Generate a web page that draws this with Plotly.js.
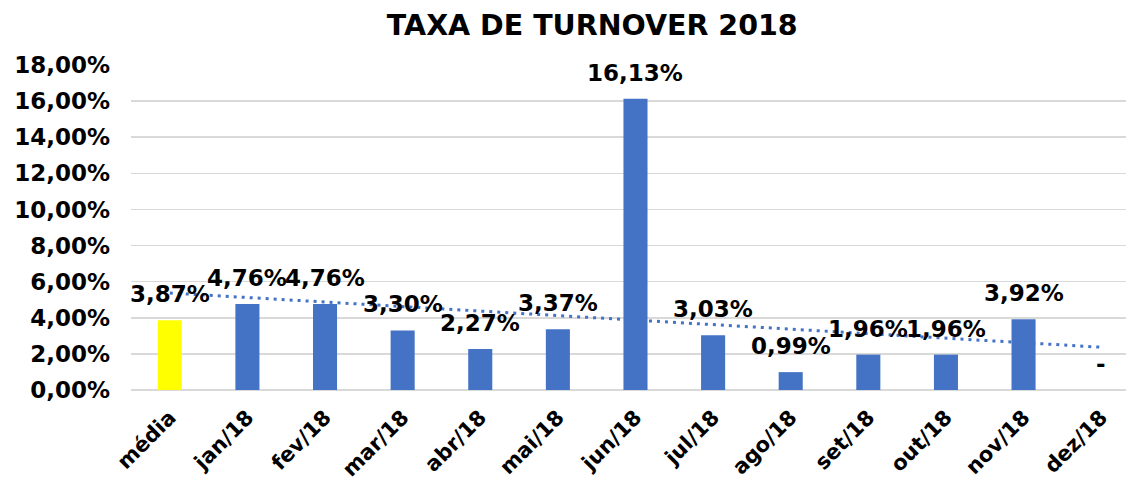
<!DOCTYPE html>
<html>
<head>
<meta charset="utf-8">
<script src="https://cdn.plot.ly/plotly-3.0.1.min.js"></script>
<style>html,body{margin:0;padding:0;background:#fff;}#chart{width:1126px;height:483px;}</style>
</head>
<body>
<div id="chart"></div>
<script>
const categories = ["média","jan/18","fev/18","mar/18","abr/18","mai/18","jun/18","jul/18","ago/18","set/18","out/18","nov/18","dez/18"];
const values = [3.87, 4.76, 4.76, 3.30, 2.27, 3.37, 16.13, 3.03, 0.99, 1.96, 1.96, 3.92, 0];
const dataLabels = ["3,87%","4,76%","4,76%","3,30%","2,27%","3,37%","16,13%","3,03%","0,99%","1,96%","1,96%","3,92%","-"];
const barColors = ["#FFFF00","#4472C4","#4472C4","#4472C4","#4472C4","#4472C4","#4472C4","#4472C4","#4472C4","#4472C4","#4472C4","#4472C4","#4472C4"];
const yTickVals = [0, 2, 4, 6, 8, 10, 12, 14, 16, 18];
const yTickText = ["0,00%","2,00%","4,00%","6,00%","8,00%","10,00%","12,00%","14,00%","16,00%","18,00%"];

// linear trendline (least squares) over the series
const n = values.length;
const xs = values.map((_, i) => i + 1);
const mx = xs.reduce((a, b) => a + b, 0) / n;
const my = values.reduce((a, b) => a + b, 0) / n;
let sxy = 0, sxx = 0;
for (let i = 0; i < n; i++) { sxy += (xs[i] - mx) * (values[i] - my); sxx += (xs[i] - mx) ** 2; }
const slope = sxy / sxx, intercept = my - slope * mx;
const trend = xs.map(x => intercept + slope * x);

const FONT = "DejaVu Sans, Verdana, sans-serif";

const bars = {
  type: "bar", x: categories, y: values,
  marker: {color: barColors},
  hoverinfo: "skip", showlegend: false
};
const trendTrace = {
  type: "scatter", mode: "lines", x: categories, y: trend,
  line: {color: "#4472C4", width: 3, dash: "3px,5px"},
  hoverinfo: "skip", showlegend: false
};

const annotations = categories.map((c, i) => ({
  x: c, y: values[i], xref: "x", yref: "y",
  text: "<b>" + dataLabels[i] + "</b>",
  showarrow: false, yanchor: "bottom", yshift: 11,
  font: {family: FONT, size: 23, color: "#000"}
}));

const layout = {
  width: 1126, height: 483,
  margin: {l: 131, r: 0, t: 65, b: 93},
  paper_bgcolor: "#fff", plot_bgcolor: "#fff",
  bargap: 0.69,
  title: {
    text: "<b>TAXA DE TURNOVER 2018</b>",
    x: 0.526, xref: "container", xanchor: "center",
    y: 0.968, yref: "container", yanchor: "top",
    font: {family: FONT, size: 28.5, color: "#000"}
  },
  xaxis: {
    type: "category",
    range: [-0.5, 12.32],
    tickangle: -45,
    tickfont: {family: FONT, size: 21, color: "#000", weight: "bold"},
    showgrid: false, zeroline: false, showline: false, ticks: "",
    ticklabelstandoff: 10,
    fixedrange: true
  },
  yaxis: {
    range: [0, 18],
    tickvals: yTickVals, ticktext: yTickText,
    tickfont: {family: FONT, size: 23, color: "#000", weight: "bold"},
    showgrid: true, gridcolor: "#D9D9D9", gridwidth: 1.5,
    zeroline: true, zerolinecolor: "#D9D9D9", zerolinewidth: 1.5,
    showline: false, ticks: "", ticklabelstandoff: 20,
    fixedrange: true
  },
  annotations: annotations
};

Plotly.newPlot("chart", [bars, trendTrace], layout, {displayModeBar: false, staticPlot: true});
</script>
</body>
</html>
